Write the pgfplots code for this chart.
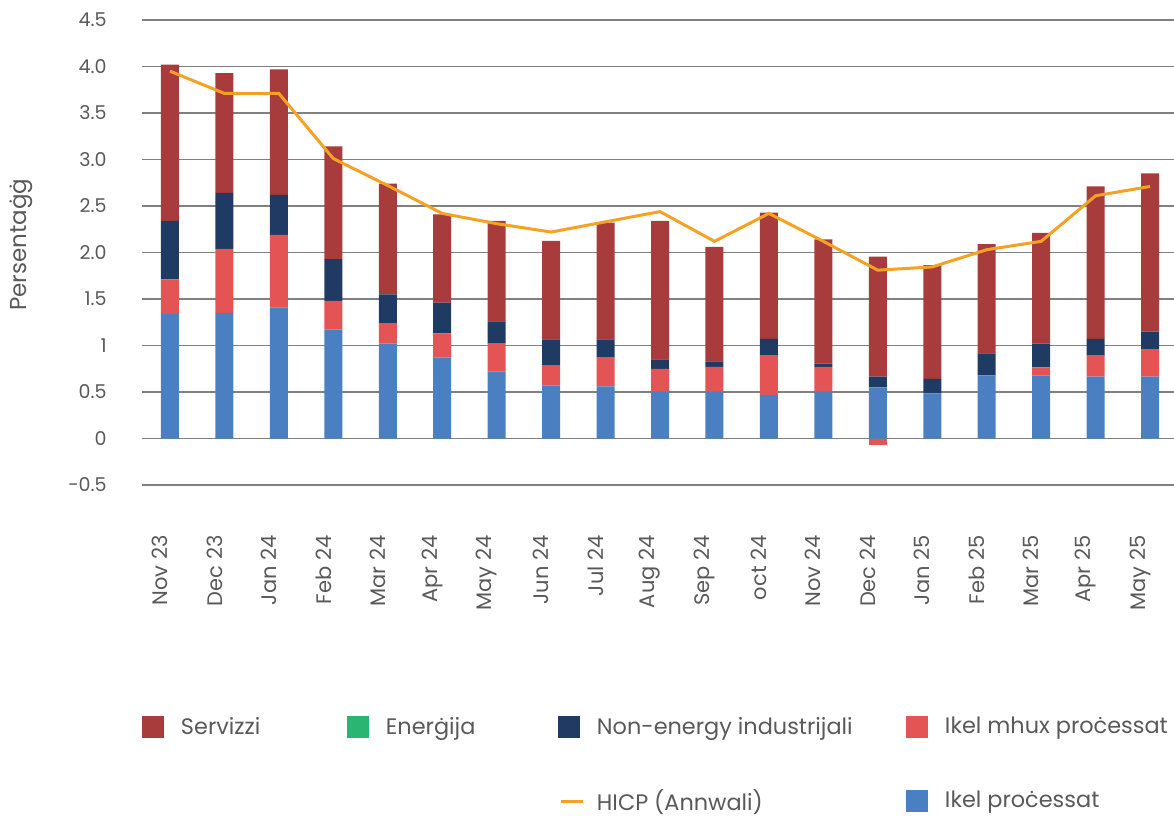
\documentclass[border=0pt]{standalone}
\usepackage{pgfplots}
\pgfplotsset{compat=1.18}
\usepackage{pgfplotstable}
\usepackage{fontspec}
\setmainfont{Poppins}
\definecolor{serv}{HTML}{A83C3C}
\definecolor{ener}{HTML}{2AB573}
\definecolor{neig}{HTML}{1F3A63}
\definecolor{ikmx}{HTML}{E55454}
\definecolor{ikpr}{HTML}{4A80C2}
\definecolor{hicp}{HTML}{F5A124}
\definecolor{txt}{HTML}{595959}
\definecolor{grd}{HTML}{808080}

\pgfplotstableread{
idx blue  red   ener navy  serv  hicp
0   1.34  0.37  0    0.63  1.68  3.95
1   1.35  0.69  0    0.60  1.29  3.71
2   1.41  0.78  0    0.43  1.35  3.71
3   1.17  0.31  0    0.45  1.21  3.01
4   1.02  0.22  0    0.31  1.19  2.72
5   0.87  0.26  0    0.33  0.95  2.42
6   0.72  0.30  0    0.24  1.08  2.31
7   0.57  0.215 0    0.28  1.06  2.22
8   0.56  0.31  0    0.195 1.255 2.33
9   0.505 0.245 0    0.10  1.49  2.44
10  0.505 0.265 0    0.06  1.23  2.12
11  0.47  0.42  0    0.18  1.36  2.42
12  0.505 0.265 0    0.035 1.335 2.12
13  0.55  0     0    0.115 1.29  1.81
14  0.485 0     0    0.155 1.225 1.845
15  0.68  0     0    0.235 1.175 2.03
16  0.68  0.085 0    0.255 1.19  2.12
17  0.665 0.225 0    0.18  1.64  2.61
18  0.665 0.295 0    0.19  1.70  2.71
}\data

\pgfplotsset{base/.style={scale only axis, width=516pt, height=232.5pt,
  xmin=-0.514, xmax=18.44, ymin=-0.5, ymax=4.5,
  axis line style={draw=none}, major tick length=0pt}}

\newcommand{\sw}[1]{\fill[#1, draw=none] (0pt,-5.5pt) rectangle (11pt,5.5pt); \path[draw=none, fill=none] (19.5pt,0pt);}

\begin{document}
\begin{tikzpicture}
\begin{axis}[base, ybar stacked, bar width=9pt,
  ymajorgrids, major grid style={grd, line width=0.75pt},
  ytick={-0.5,0,0.5,1,1.5,2,2.5,3,3.5,4,4.5},
  yticklabels={-0.5,0,0.5,1,1.5,2.0,2.5,3.0,3.5,4.0,4.5},
  xtick={0,...,18},
  xticklabels={Nov 23,Dec 23,Jan 24,Feb 24,Mar 24,Apr 24,May 24,Jun 24,Jul 24,Aug 24,Sep 24,oct 24,Nov 24,Dec 24,Jan 25,Feb 25,Mar 25,Apr 25,May 25},
  /pgf/number format/assume math mode=true,
  yticklabel style={font=\fontsize{9.5}{11}\selectfont, text=txt, inner sep=0pt, xshift=-17.5pt},
  xticklabel style={font=\fontsize{10.5}{12}\selectfont, text=txt, rotate=90, anchor=east, inner sep=0pt, xshift=-25pt, yshift=5pt},
  ylabel={Persentaġġ},
  every axis y label/.style={at={(axis description cs:0,0.517)}, xshift=-60.5pt, rotate=90, anchor=center, font=\fontsize{11.5}{13}\selectfont, text=txt},
  legend columns=4, legend cell align=left,
  legend style={at={(axis description cs:0,-0.497)}, anchor=north west, draw=none, fill=none,
    inner sep=0pt, outer sep=0pt, column sep=0pt, row sep=25.5pt,
    font=\fontsize{11.2}{13}\selectfont, text=txt, nodes={inner sep=0pt}},
]
\coordinate (SW) at (rel axis cs:0,0);
\coordinate (NE) at (rel axis cs:1,1);
\addplot[fill=ikpr, draw=none, forget plot] table[x=idx, y=blue] {\data};
\addplot[fill=ikmx, draw=none, forget plot] table[x=idx, y=red] {\data};
\addplot[fill=ener, draw=none, forget plot] table[x=idx, y=ener] {\data};
\addplot[fill=neig, draw=none, forget plot] table[x=idx, y=navy] {\data};
\addplot[fill=serv, draw=none, forget plot] table[x=idx, y=serv] {\data};

\addlegendimage{legend image code/.code={\sw{serv}}}
\addlegendentry{\makebox[83pt][l]{Servizzi}}
\addlegendimage{legend image code/.code={\sw{ener}}}
\addlegendentry{\makebox[86pt][l]{Enerġija}}
\addlegendimage{legend image code/.code={\sw{neig}}}
\addlegendentry{\makebox[154.5pt][l]{Non-energy industrijali}}
\addlegendimage{legend image code/.code={\sw{ikmx}}}
\addlegendentry{Ikel mhux proċessat}
\addlegendimage{legend image code/.code={\path[draw=none, fill=none] (0pt,-5.5pt) rectangle (19.5pt,5.5pt);}}
\addlegendentry{}
\addlegendimage{legend image code/.code={\path[draw=none, fill=none] (0pt,-5.5pt) rectangle (19.5pt,5.5pt);}}
\addlegendentry{}
\addlegendimage{legend image code/.code={\draw[hicp, line width=1.5pt, fill=none] (1.5pt,0pt) -- (12.5pt,0pt); \path[draw=none, fill=none] (0pt,-5.5pt) rectangle (19.5pt,5.5pt);}}
\addlegendentry{HICP (Annwali)}
\addlegendimage{legend image code/.code={\sw{ikpr}}}
\addlegendentry{Ikel proċessat}
\end{axis}
\begin{axis}[base, hide axis]
\addplot[ybar, bar width=9pt, bar shift=0pt, fill=ikmx, draw=none] coordinates {(13,-0.065)};
\addplot[hicp, line width=1.5pt, mark=none] table[x=idx, y=hicp] {\data};
\end{axis}
\pgfresetboundingbox
\path[use as bounding box] ([shift={(-71pt,-165pt)}]SW) rectangle ([shift={(0pt,10pt)}]NE);
\end{tikzpicture}
\end{document}
